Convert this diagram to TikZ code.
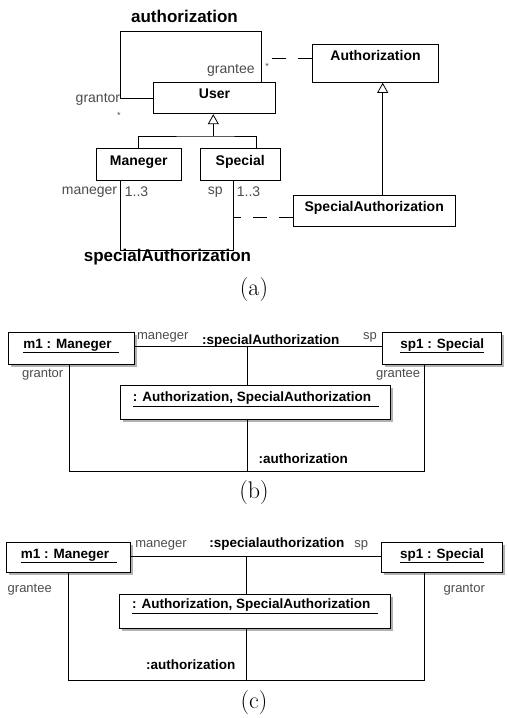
\documentclass[tikz,border=0pt]{standalone}
\usepackage{fontspec}
\setsansfont{Liberation Sans}
\usetikzlibrary{arrows.meta,shadows}
\tikzset{node distance=2.0cm}

\begin{document}
\begin{tikzpicture}[x=1pt,y=-1pt,
  line width=0.8pt,
  cls/.style={draw, fill=white, line width=1pt, inner sep=0pt,
    font=\sffamily\bfseries\fontsize{14}{16}\selectfont},
  obj/.style={cls, font=\sffamily\bfseries\fontsize{13.5}{15}\selectfont,
    drop shadow={shadow xshift=2.5pt, shadow yshift=-2.5pt, fill=black!30, opacity=1}},
  lbl/.style={inner sep=0pt, text=black!70, font=\sffamily\fontsize{13}{15}\selectfont},
  lbla/.style={lbl, font=\sffamily\fontsize{14}{16}\selectfont},
  hdr/.style={inner sep=0pt, font=\sffamily\bfseries\fontsize{13.5}{15}\selectfont},
  hdra/.style={inner sep=0pt, font=\sffamily\bfseries\fontsize{17}{19}\selectfont},
  figcap/.style={inner sep=0pt, font=\fontsize{24}{26}\selectfont},
  gen/.style={-{Triangle[open, width=11pt, length=10pt]}},
  acdash/.style={dash pattern=on 14pt off 12pt}
]
\useasboundingbox (0,0) rectangle (507,718);

% (a) class diagram
\node[cls, minimum width=122.4pt, text height=15.7pt, text depth=15.7pt] (User) at (214.5,98) {User};
\node[cls, minimum width=125.6pt, text height=16.4pt, text depth=21.6pt] (Authorization) at (375.5,63.3) {Authorization};
\node[cls, minimum width=84.7pt, text height=16.7pt, text depth=15pt] (Maneger) at (138.7,164.2) {Maneger};
\node[cls, minimum width=79.7pt, text height=16.7pt, text depth=15pt] (Special) at (240.2,164.2) {Special};
\node[cls, minimum width=161.7pt, text height=16.7pt, text depth=15pt] (SpecAuth) at (374.2,210.9) {SpecialAuthorization};

\coordinate (loopL) at (120.7,31);
\coordinate (loopR) at (261,31);
\draw (User.west) -| (loopL) -- (loopR) -- (loopR |- User.north);
\coordinate (acA) at (261,58.3);
\draw[acdash] (Authorization.west |- acA) -- (acA);

\coordinate (genJ) at (213.3,136);
\coordinate (spTop) at (256.7,148.3);
\draw (Maneger.north) |- (genJ) -| (spTop);
\draw[gen] (genJ) -- (genJ |- User.south);
\coordinate (genS) at (382.7,195);
\draw[gen] (genS) -- (genS |- Authorization.south);

\coordinate (saL) at (120.7,250);
\coordinate (saR) at (233.3,250);
\draw (saL |- Maneger.south) -- (saL) -- (saR) -- (saR |- Special.south);
\coordinate (acB) at (233.3,217.3);
\draw[acdash] (acB -| SpecAuth.west) -- (acB);

\node[hdra] (authName) at (184.5,16) {authorization};
\node[lbla, anchor=east] (granteeA) at (255,70.7) {grantee};
\node[lbla, anchor=east] (grantorA) at (120.5,99) {grantor};
\node[lbl, font=\sffamily\fontsize{9}{9}\selectfont] (starA) at (267,66) {*};
\node[lbl, font=\sffamily\fontsize{9}{9}\selectfont] (starB) at (119,115) {*};
\node[lbla, anchor=east] (manegerA) at (117.5,191.7) {maneger};
\node[lbla, anchor=west] (multA) at (124.5,191.7) {1..3};
\node[lbla, anchor=west] (spA) at (207.5,191.7) {sp};
\node[lbla, anchor=west] (multB) at (236.5,191.7) {1..3};
\node[hdra] (saName) at (167.5,257.3) {specialAuthorization};
\node[figcap] (capA) at (254,290) {(a)};

% (b) object diagram
\node[obj, minimum width=125.7pt, text height=15.8pt, text depth=15.9pt] (m1b) at (71.2,348.2) {\underline{m1 : Maneger\ \ }};
\node[obj, minimum width=119pt, text height=15.8pt, text depth=15.9pt] (sp1b) at (442.2,348.2) {\underline{sp1 : Special}};
\node[obj, minimum width=270pt, text height=16.5pt, text depth=17.8pt] (authb) at (255.7,402.2) {\underline{: Authorization, SpecialAuthorization\ \ }};

\coordinate (jb) at (247.3,346);
\coordinate (bL) at (69,471);
\coordinate (bR) at (424.3,471);
\draw (m1b.east |- jb) -- (sp1b.west |- jb);
\draw (jb) -- (jb |- authb.north);
\draw (authb.south -| jb) -- (jb |- bL);
\draw (m1b.south -| bL) -- (bL) -- (bR) -- (sp1b.south -| bR);

\node[lbl, anchor=west] (manegerB) at (136.7,337.3) {maneger};
\node[hdr, anchor=west] (saB) at (201.7,340.7) {:specialAuthorization};
\node[lbl, anchor=west] (spB) at (362.7,337) {sp};
\node[lbl, anchor=west] (grantorB) at (21.7,375) {grantor};
\node[lbl, anchor=west] (granteeB) at (375.7,375) {grantee};
\node[hdr, anchor=west] (authB) at (258.3,458.3) {:authorization};
\node[figcap] (capB) at (254,493) {(b)};

% (c) object diagram
\node[obj, minimum width=124pt, text height=15.8pt, text depth=14.2pt] (m1c) at (68.7,557.3) {\underline{m1 : Maneger\ \ }};
\node[obj, minimum width=121.7pt, text height=15.8pt, text depth=14.2pt] (sp1c) at (441.9,557.3) {\underline{sp1 : Special}};
\node[obj, minimum width=271.7pt, text height=14.5pt, text depth=19.5pt] (authc) at (254.9,611.3) {\underline{: Authorization, SpecialAuthorization\ \ }};

\coordinate (jc) at (246.7,556.7);
\coordinate (cL) at (68.3,680);
\coordinate (cR) at (424.3,680);
\draw (m1c.east |- jc) -- (sp1c.west |- jc);
\draw (jc) -- (jc |- authc.north);
\draw (authc.south -| jc) -- (jc |- cL);
\draw (m1c.south -| cL) -- (cL) -- (cR) -- (sp1c.south -| cR);

\node[lbl, anchor=west] (manegerC) at (135,545.7) {maneger};
\node[hdr, anchor=west] (saC) at (209,544.3) {:specialauthorization};
\node[lbl, anchor=west] (spC) at (354,545) {sp};
\node[lbl, anchor=west] (granteeC) at (7.3,589.3) {grantee};
\node[lbl, anchor=west] (grantorC) at (443.3,589.3) {grantor};
\node[hdr, anchor=west] (authC) at (145.7,665) {:authorization};
\node[figcap] (capC) at (254,703) {(c)};
\end{tikzpicture}
\end{document}
